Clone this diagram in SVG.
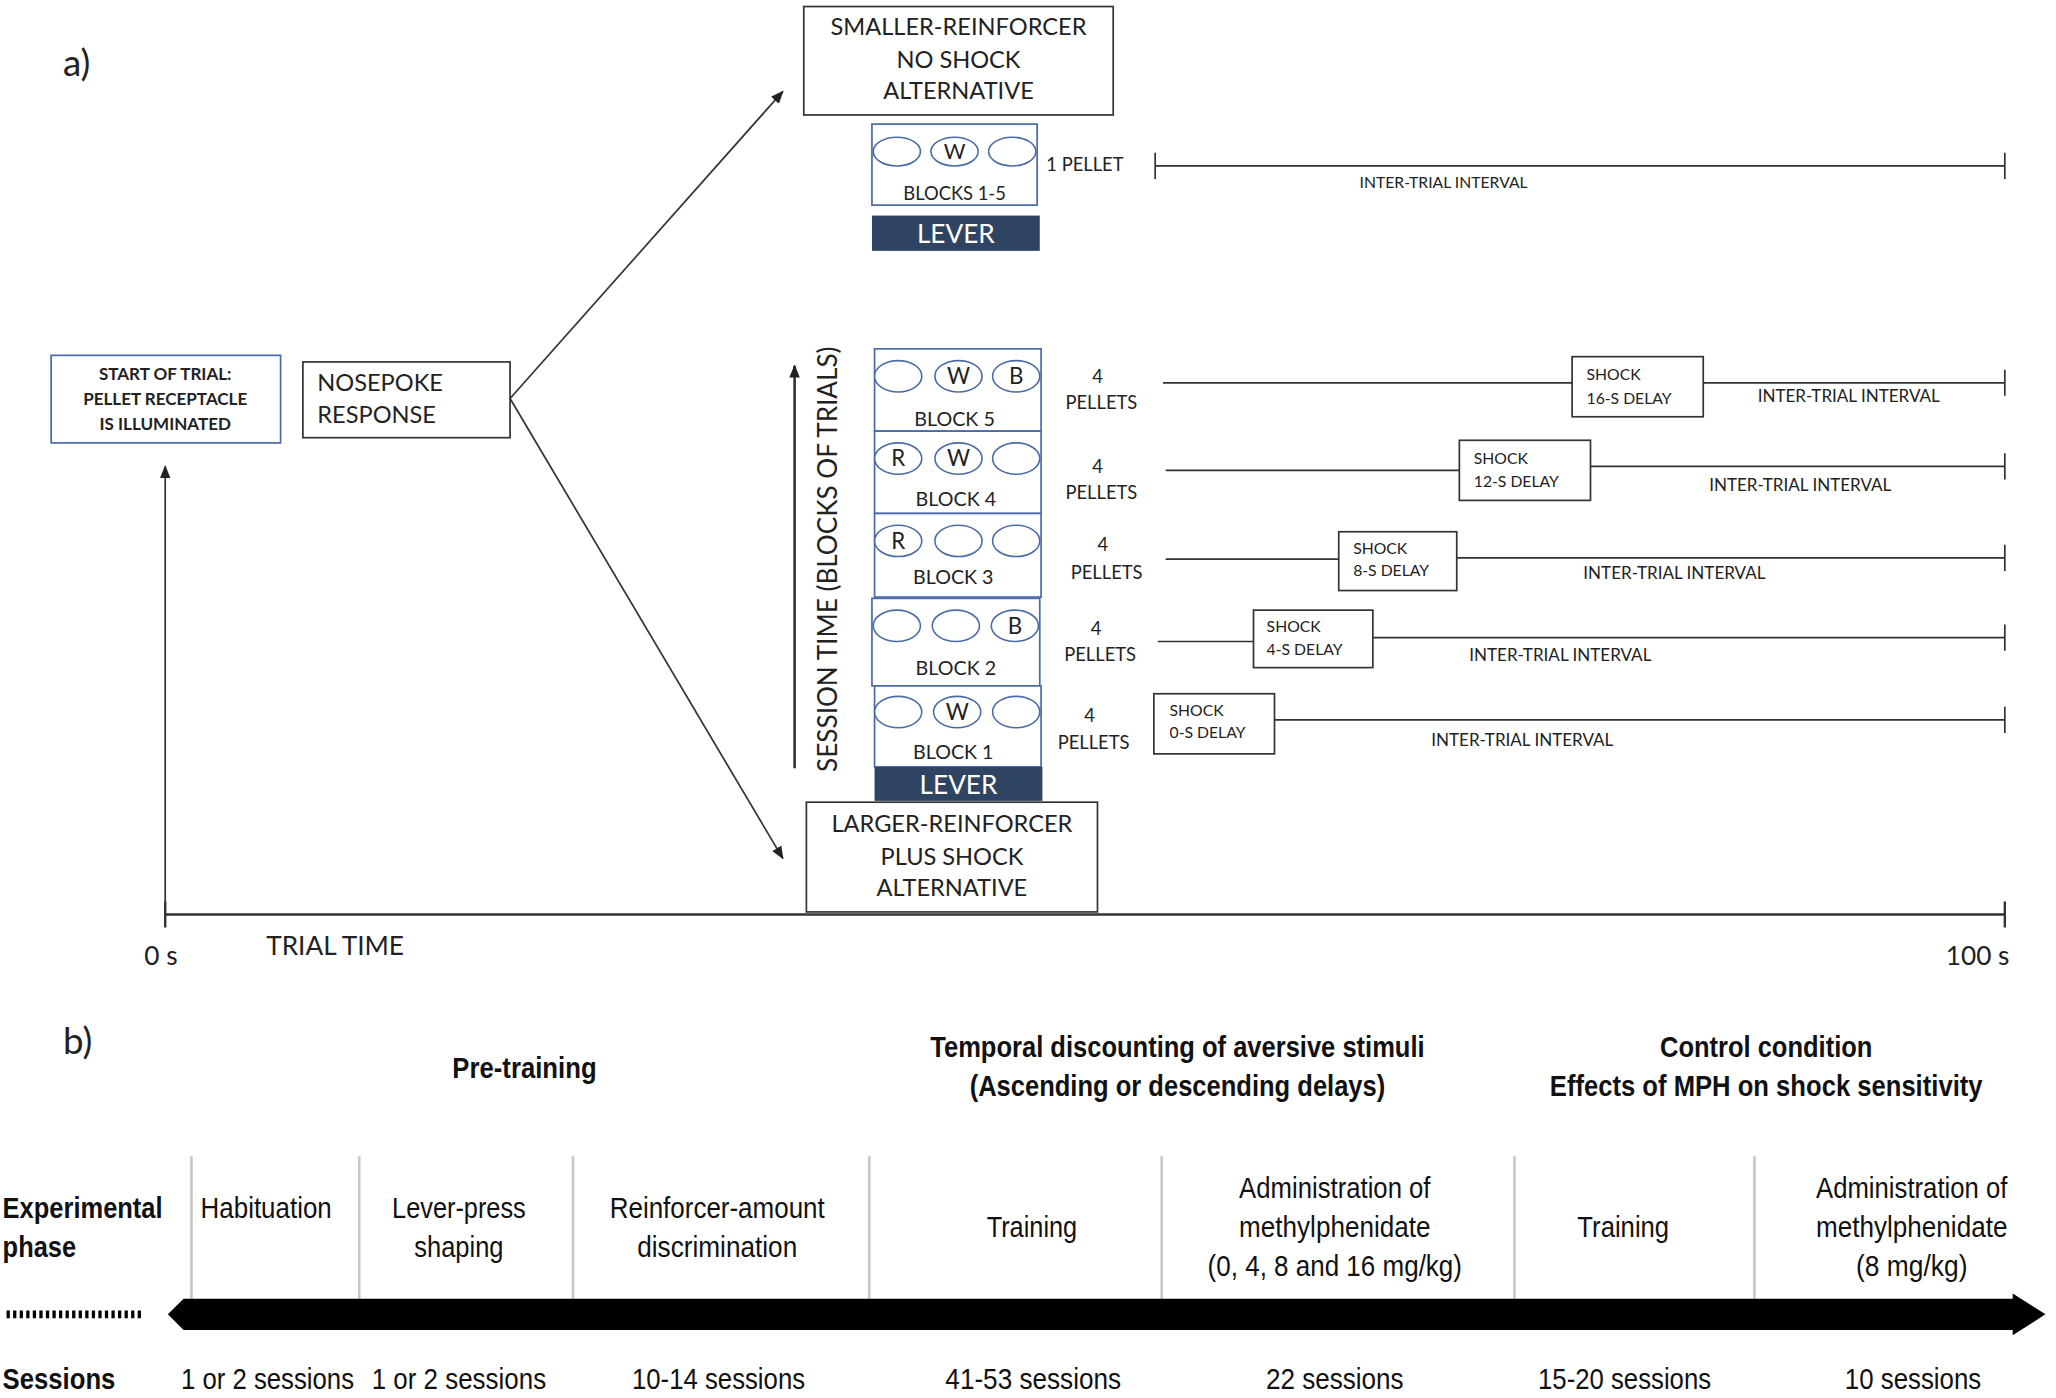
<svg xmlns="http://www.w3.org/2000/svg" width="2056" height="1398" viewBox="0 0 2056 1398">
<style>
.a{font-family:Lato,"Liberation Sans",sans-serif;fill:#222}
.m{text-anchor:middle}
.bx{fill:#fff;stroke:#333;stroke-width:1.3}
.bb{fill:#fff;stroke:#4a6aa8;stroke-width:1.3}
.el{fill:#fff;stroke:#4a6aa8;stroke-width:1.2}
.lv{fill:#2f4462}
.ln{stroke:#333;stroke-width:1.3;fill:none}
.n{font-family:"Liberation Sans",sans-serif;fill:#111}
.g{stroke:#c8c8c8;stroke-width:2}
</style>
<defs>
<marker id="ah" markerWidth="10" markerHeight="10" refX="9" refY="5" orient="auto" markerUnits="userSpaceOnUse"><path d="M0,1 L10,5 L0,9 z" fill="#222"/></marker>
</defs>
<rect width="2056" height="1398" fill="#fff"/>
<g transform="scale(1.3112,1.3065)">
<text class="a" x="48" y="58" font-size="28">a)</text>
<g id="smaller"><rect class="bx" x="613" y="5" width="236" height="83"/>
<text class="a m" x="731" y="27" font-size="18">SMALLER-REINFORCER</text>
<text class="a m" x="731" y="52" font-size="18">NO SHOCK</text>
<text class="a m" x="731" y="76" font-size="18">ALTERNATIVE</text></g>
<g id="blocks15"><rect class="bb" x="665" y="95" width="126" height="62"/>
<ellipse class="el" cx="684" cy="116" rx="18" ry="11"/><ellipse class="el" cx="728" cy="116" rx="18" ry="11"/><ellipse class="el" cx="772" cy="116" rx="18" ry="11"/>
<text class="a m" x="728" y="122" font-size="16">W</text>
<text class="a m" x="728" y="153" font-size="14">BLOCKS 1-5</text></g>
<g id="lever1"><rect class="lv" x="665" y="165" width="128" height="27"/><text class="a m" x="729" y="186" font-size="20" style="fill:#fff">LEVER</text></g>
<g id="iti0"><text class="a" x="798" y="131" font-size="14">1 PELLET</text>
<path class="ln" d="M881,127H1529M881,117V137M1529,117V137"/>
<text class="a m" x="1101" y="144" font-size="12">INTER-TRIAL INTERVAL</text></g>
<g id="start"><rect class="bb" x="39" y="272" width="175" height="67"/>
<text class="a m" x="126" y="291" font-size="13" font-weight="bold">START OF TRIAL:</text>
<text class="a m" x="126" y="310" font-size="13" font-weight="bold">PELLET RECEPTACLE</text>
<text class="a m" x="126" y="329" font-size="13" font-weight="bold">IS ILLUMINATED</text></g>
<g id="nosepoke"><rect class="bx" x="231" y="277" width="158" height="58"/>
<text class="a" x="242" y="299" font-size="18">NOSEPOKE</text>
<text class="a" x="242" y="324" font-size="18">RESPONSE</text></g>
<g id="connectors">
<path class="ln" d="M389,305L597,70" marker-end="url(#ah)"/>
<path class="ln" d="M389,305L597,657" marker-end="url(#ah)"/>
<path class="ln" d="M126,700V357" marker-end="url(#ah)"/>
<path class="ln" d="M606,588V280" marker-end="url(#ah)" style="stroke-width:2"/>
<path class="ln" d="M126,700H1529M126,690V710M1529,690V710" style="stroke-width:1.8"/>
</g>
<text class="a" x="110" y="739" font-size="20">0 s</text>
<text class="a" x="203" y="731" font-size="20">TRIAL TIME</text>
<text class="a" x="1484" y="739" font-size="20">100 s</text>
<text class="a m" transform="translate(638,428) rotate(-90)" font-size="20">SESSION TIME (BLOCKS OF TRIALS)</text>
<g id="block5"><rect class="bb" x="667" y="267" width="127" height="63"/>
<ellipse class="el" cx="685" cy="288" rx="18" ry="12"/><ellipse class="el" cx="731" cy="288" rx="18" ry="12"/><ellipse class="el" cx="775" cy="288" rx="18" ry="12"/>
<text class="a m" x="731" y="294" font-size="17">W</text><text class="a m" x="775" y="294" font-size="17">B</text>
<text class="a m" x="728" y="326" font-size="15">BLOCK 5</text></g>
<g id="block4"><rect class="bb" x="667" y="330" width="127" height="63"/>
<ellipse class="el" cx="685" cy="351" rx="18" ry="12"/><ellipse class="el" cx="731" cy="351" rx="18" ry="12"/><ellipse class="el" cx="775" cy="351" rx="18" ry="12"/>
<text class="a m" x="685" y="357" font-size="17">R</text><text class="a m" x="731" y="357" font-size="17">W</text>
<text class="a m" x="729" y="387" font-size="15">BLOCK 4</text></g>
<g id="block3"><rect class="bb" x="667" y="393" width="127" height="64"/>
<ellipse class="el" cx="685" cy="414" rx="18" ry="12"/><ellipse class="el" cx="731" cy="414" rx="18" ry="12"/><ellipse class="el" cx="775" cy="414" rx="18" ry="12"/>
<text class="a m" x="685" y="420" font-size="17">R</text>
<text class="a m" x="727" y="447" font-size="15">BLOCK 3</text></g>
<g id="block2"><rect class="bb" x="665" y="458" width="128" height="67"/>
<ellipse class="el" cx="684" cy="479" rx="18" ry="12"/><ellipse class="el" cx="729" cy="479" rx="18" ry="12"/><ellipse class="el" cx="774" cy="479" rx="18" ry="12"/>
<text class="a m" x="774" y="485" font-size="17">B</text>
<text class="a m" x="729" y="517" font-size="15">BLOCK 2</text></g>
<g id="block1"><rect class="bb" x="667" y="525" width="127" height="62"/>
<ellipse class="el" cx="685" cy="545" rx="18" ry="12"/><ellipse class="el" cx="730" cy="545" rx="18" ry="12"/><ellipse class="el" cx="775" cy="545" rx="18" ry="12"/>
<text class="a m" x="730" y="551" font-size="17">W</text>
<text class="a m" x="727" y="581" font-size="15">BLOCK 1</text></g>
<g id="lever2"><rect class="lv" x="667" y="587" width="128" height="26"/><text class="a m" x="731" y="608" font-size="20" style="fill:#fff">LEVER</text></g>
<g id="larger"><rect class="bx" x="615" y="614" width="222" height="84"/>
<text class="a m" x="726" y="637" font-size="18">LARGER-REINFORCER</text>
<text class="a m" x="726" y="662" font-size="18">PLUS SHOCK</text>
<text class="a m" x="726" y="686" font-size="18">ALTERNATIVE</text></g>
<g id="rows" font-size="14">
<text class="a m" x="837" y="293">4</text><text class="a m" x="840" y="313">PELLETS</text>
<text class="a m" x="837" y="362">4</text><text class="a m" x="840" y="382">PELLETS</text>
<text class="a m" x="841" y="422">4</text><text class="a m" x="844" y="443">PELLETS</text>
<text class="a m" x="836" y="486">4</text><text class="a m" x="839" y="506">PELLETS</text>
<text class="a m" x="831" y="553">4</text><text class="a m" x="834" y="573">PELLETS</text>
</g>
<g id="shock16"><path class="ln" d="M887,293H1199M1299,293H1529M1529,283V303"/><rect class="bx" x="1199" y="273" width="100" height="46"/>
<text class="a" x="1210" y="291" font-size="12">SHOCK</text><text class="a" x="1210" y="309" font-size="12">16-S DELAY</text>
<text class="a m" x="1410" y="308" font-size="13">INTER-TRIAL INTERVAL</text></g>
<g id="shock12"><path class="ln" d="M889,360H1113M1213,357H1529M1529,347V367"/><rect class="bx" x="1113" y="337" width="100" height="46"/>
<text class="a" x="1124" y="355" font-size="12">SHOCK</text><text class="a" x="1124" y="373" font-size="12">12-S DELAY</text>
<text class="a m" x="1373" y="376" font-size="13">INTER-TRIAL INTERVAL</text></g>
<g id="shock8"><path class="ln" d="M889,428H1021M1111,427H1529M1529,417V437"/><rect class="bx" x="1021" y="407" width="90" height="45"/>
<text class="a" x="1032" y="424" font-size="12">SHOCK</text><text class="a" x="1032" y="441" font-size="12">8-S DELAY</text>
<text class="a m" x="1277" y="443" font-size="13">INTER-TRIAL INTERVAL</text></g>
<g id="shock4"><path class="ln" d="M883,491H956M1047,488H1529M1529,478V498"/><rect class="bx" x="956" y="467" width="91" height="44"/>
<text class="a" x="966" y="484" font-size="12">SHOCK</text><text class="a" x="966" y="501" font-size="12">4-S DELAY</text>
<text class="a m" x="1190" y="506" font-size="13">INTER-TRIAL INTERVAL</text></g>
<g id="shock0"><path class="ln" d="M972,551H1529M1529,541V561"/><rect class="bx" x="880" y="531" width="92" height="46"/>
<text class="a" x="892" y="548" font-size="12">SHOCK</text><text class="a" x="892" y="565" font-size="12">0-S DELAY</text>
<text class="a m" x="1161" y="571" font-size="13">INTER-TRIAL INTERVAL</text></g>

<text class="a" x="48" y="807" font-size="28">b)</text>
<g class="n" font-size="22" font-weight="bold" text-anchor="middle" lengthAdjust="spacingAndGlyphs">
<text x="400" y="825" textLength="110" lengthAdjust="spacingAndGlyphs">Pre-training</text>
<text x="898" y="809" textLength="377" lengthAdjust="spacingAndGlyphs">Temporal discounting of aversive stimuli</text>
<text x="898" y="839" textLength="317" lengthAdjust="spacingAndGlyphs">(Ascending or descending delays)</text>
<text x="1347" y="809" textLength="162" lengthAdjust="spacingAndGlyphs">Control condition</text>
<text x="1347" y="839" textLength="330" lengthAdjust="spacingAndGlyphs">Effects of MPH on shock sensitivity</text>
</g>
<g id="dividers"><path class="g" d="M146,885V1005M274,885V1005M437,885V1005M663,885V1005M886,885V1005M1155,885V1005M1338,885V1005"/></g>
<g id="timeline">
<path d="M128,1006L140,994H1535V990L1560,1006L1535,1022V1018H140Z" fill="#000"/>
<path d="M5,1006H110" stroke="#000" stroke-width="6" stroke-dasharray="2.5,2.5"/>
</g>
<g class="n" font-size="22">
<text x="2" y="932" font-weight="bold" textLength="122" lengthAdjust="spacingAndGlyphs">Experimental</text><text x="2" y="962" font-weight="bold" textLength="56" lengthAdjust="spacingAndGlyphs">phase</text>
<g text-anchor="middle">
<text x="203" y="932" textLength="100" lengthAdjust="spacingAndGlyphs">Habituation</text>
<text x="350" y="932" textLength="102" lengthAdjust="spacingAndGlyphs">Lever-press</text><text x="350" y="962" textLength="68" lengthAdjust="spacingAndGlyphs">shaping</text>
<text x="547" y="932" textLength="164" lengthAdjust="spacingAndGlyphs">Reinforcer-amount</text><text x="547" y="962" textLength="122" lengthAdjust="spacingAndGlyphs">discrimination</text>
<text x="787" y="947" textLength="69" lengthAdjust="spacingAndGlyphs">Training</text>
<text x="1018" y="917" textLength="146" lengthAdjust="spacingAndGlyphs">Administration of</text><text x="1018" y="947" textLength="146" lengthAdjust="spacingAndGlyphs">methylphenidate</text><text x="1018" y="977" textLength="194" lengthAdjust="spacingAndGlyphs">(0, 4, 8 and 16 mg/kg)</text>
<text x="1238" y="947" textLength="70" lengthAdjust="spacingAndGlyphs">Training</text>
<text x="1458" y="917" textLength="146" lengthAdjust="spacingAndGlyphs">Administration of</text><text x="1458" y="947" textLength="146" lengthAdjust="spacingAndGlyphs">methylphenidate</text><text x="1458" y="977" textLength="85" lengthAdjust="spacingAndGlyphs">(8 mg/kg)</text>
</g>
<text x="2" y="1063" font-weight="bold" textLength="86" lengthAdjust="spacingAndGlyphs">Sessions</text>
<g text-anchor="middle">
<text x="204" y="1063" textLength="132" lengthAdjust="spacingAndGlyphs">1 or 2 sessions</text><text x="350" y="1063" textLength="133" lengthAdjust="spacingAndGlyphs">1 or 2 sessions</text><text x="548" y="1063" textLength="132" lengthAdjust="spacingAndGlyphs">10-14 sessions</text>
<text x="788" y="1063" textLength="134" lengthAdjust="spacingAndGlyphs">41-53 sessions</text><text x="1018" y="1063" textLength="105" lengthAdjust="spacingAndGlyphs">22 sessions</text><text x="1239" y="1063" textLength="132" lengthAdjust="spacingAndGlyphs">15-20 sessions</text><text x="1459" y="1063" textLength="104" lengthAdjust="spacingAndGlyphs">10 sessions</text>
</g></g>
</g>
</svg>
